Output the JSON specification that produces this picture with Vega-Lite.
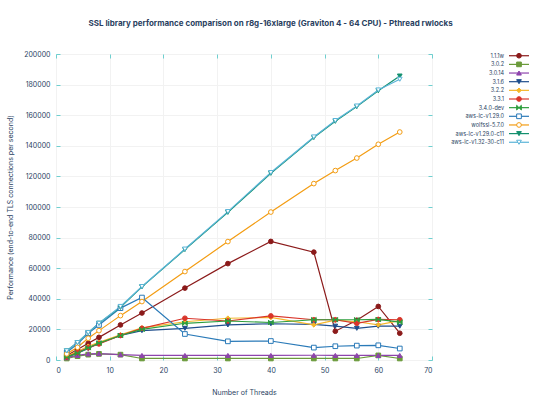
{
  "$schema": "https://vega.github.io/schema/vega-lite/v6.json",
  "background": "white",
  "padding": {"left": 6, "top": 19, "right": 5, "bottom": 5},
  "title": {
    "text": "SSL library performance comparison on r8g-16xlarge (Graviton 4 - 64 CPU) - Pthread rwlocks",
    "fontSize": 8,
    "fontWeight": "bold",
    "color": "#2a3f5f",
    "anchor": "middle",
    "offset": 22
  },
  "config": {
    "font": "Inter",
    "view": {"stroke": "#6fcfcf", "strokeWidth": 1},
    "axis": {
      "labelFontSize": 7,
      "labelColor": "#2a3f5f",
      "titleFontSize": 7,
      "titleFontWeight": "normal",
      "titleColor": "#2a3f5f",
      "gridColor": "#f2f2f2",
      "domain": false,
      "tickColor": "#6fcfcf",
      "tickSize": -4,
      "labelPadding": 10
    },
    "concat": {"spacing": 18}
  },
  "datasets": {
    "libs": [
      {"lib": "1.1.1w"},
      {"lib": "3.0.2"},
      {"lib": "3.0.14"},
      {"lib": "3.1.6"},
      {"lib": "3.2.2"},
      {"lib": "3.3.1"},
      {"lib": "3.4.0-dev"},
      {"lib": "aws-lc-v1.29.0"},
      {"lib": "wolfssl-5.7.0"},
      {"lib": "aws-lc-v1.29.0-c11"},
      {"lib": "aws-lc-v1.32-30-c11"}
    ],
    "perf": [
      {"lib": "1.1.1w", "threads": 2, "perf": 3000},
      {"lib": "1.1.1w", "threads": 4, "perf": 6800},
      {"lib": "1.1.1w", "threads": 6, "perf": 10900},
      {"lib": "1.1.1w", "threads": 8, "perf": 14800},
      {"lib": "1.1.1w", "threads": 12, "perf": 22900},
      {"lib": "1.1.1w", "threads": 16, "perf": 30700},
      {"lib": "1.1.1w", "threads": 24, "perf": 47000},
      {"lib": "1.1.1w", "threads": 32, "perf": 63000},
      {"lib": "1.1.1w", "threads": 40, "perf": 77500},
      {"lib": "1.1.1w", "threads": 48, "perf": 70500},
      {"lib": "1.1.1w", "threads": 52, "perf": 18800},
      {"lib": "1.1.1w", "threads": 56, "perf": 26000},
      {"lib": "1.1.1w", "threads": 60, "perf": 35000},
      {"lib": "1.1.1w", "threads": 64, "perf": 17500},
      {"lib": "3.0.2", "threads": 2, "perf": 1000},
      {"lib": "3.0.2", "threads": 4, "perf": 2500},
      {"lib": "3.0.2", "threads": 6, "perf": 3500},
      {"lib": "3.0.2", "threads": 8, "perf": 4000},
      {"lib": "3.0.2", "threads": 12, "perf": 3500},
      {"lib": "3.0.2", "threads": 16, "perf": 1000},
      {"lib": "3.0.2", "threads": 24, "perf": 1000},
      {"lib": "3.0.2", "threads": 32, "perf": 1000},
      {"lib": "3.0.2", "threads": 40, "perf": 1000},
      {"lib": "3.0.2", "threads": 48, "perf": 1000},
      {"lib": "3.0.2", "threads": 52, "perf": 1000},
      {"lib": "3.0.2", "threads": 56, "perf": 1000},
      {"lib": "3.0.2", "threads": 60, "perf": 3000},
      {"lib": "3.0.2", "threads": 64, "perf": 1000},
      {"lib": "3.0.14", "threads": 2, "perf": 1500},
      {"lib": "3.0.14", "threads": 4, "perf": 3000},
      {"lib": "3.0.14", "threads": 6, "perf": 4000},
      {"lib": "3.0.14", "threads": 8, "perf": 4200},
      {"lib": "3.0.14", "threads": 12, "perf": 3500},
      {"lib": "3.0.14", "threads": 16, "perf": 3000},
      {"lib": "3.0.14", "threads": 24, "perf": 3000},
      {"lib": "3.0.14", "threads": 32, "perf": 3000},
      {"lib": "3.0.14", "threads": 40, "perf": 3000},
      {"lib": "3.0.14", "threads": 48, "perf": 3100},
      {"lib": "3.0.14", "threads": 52, "perf": 3000},
      {"lib": "3.0.14", "threads": 56, "perf": 3000},
      {"lib": "3.0.14", "threads": 60, "perf": 3000},
      {"lib": "3.0.14", "threads": 64, "perf": 3000},
      {"lib": "3.1.6", "threads": 2, "perf": 1800},
      {"lib": "3.1.6", "threads": 4, "perf": 4500},
      {"lib": "3.1.6", "threads": 6, "perf": 7500},
      {"lib": "3.1.6", "threads": 8, "perf": 11000},
      {"lib": "3.1.6", "threads": 12, "perf": 16000},
      {"lib": "3.1.6", "threads": 16, "perf": 19200},
      {"lib": "3.1.6", "threads": 24, "perf": 20700},
      {"lib": "3.1.6", "threads": 32, "perf": 22900},
      {"lib": "3.1.6", "threads": 40, "perf": 23700},
      {"lib": "3.1.6", "threads": 48, "perf": 23300},
      {"lib": "3.1.6", "threads": 52, "perf": 22100},
      {"lib": "3.1.6", "threads": 56, "perf": 20700},
      {"lib": "3.1.6", "threads": 60, "perf": 22100},
      {"lib": "3.1.6", "threads": 64, "perf": 22100},
      {"lib": "3.2.2", "threads": 2, "perf": 2500},
      {"lib": "3.2.2", "threads": 4, "perf": 5500},
      {"lib": "3.2.2", "threads": 6, "perf": 9000},
      {"lib": "3.2.2", "threads": 8, "perf": 11500},
      {"lib": "3.2.2", "threads": 12, "perf": 16500},
      {"lib": "3.2.2", "threads": 16, "perf": 21000},
      {"lib": "3.2.2", "threads": 24, "perf": 25000},
      {"lib": "3.2.2", "threads": 32, "perf": 27300},
      {"lib": "3.2.2", "threads": 40, "perf": 27800},
      {"lib": "3.2.2", "threads": 48, "perf": 23000},
      {"lib": "3.2.2", "threads": 52, "perf": 26000},
      {"lib": "3.2.2", "threads": 56, "perf": 25000},
      {"lib": "3.2.2", "threads": 60, "perf": 23000},
      {"lib": "3.2.2", "threads": 64, "perf": 25700},
      {"lib": "3.3.1", "threads": 2, "perf": 2000},
      {"lib": "3.3.1", "threads": 4, "perf": 5000},
      {"lib": "3.3.1", "threads": 6, "perf": 8000},
      {"lib": "3.3.1", "threads": 8, "perf": 10500},
      {"lib": "3.3.1", "threads": 12, "perf": 16000},
      {"lib": "3.3.1", "threads": 16, "perf": 20700},
      {"lib": "3.3.1", "threads": 24, "perf": 27300},
      {"lib": "3.3.1", "threads": 32, "perf": 25500},
      {"lib": "3.3.1", "threads": 40, "perf": 28800},
      {"lib": "3.3.1", "threads": 48, "perf": 26300},
      {"lib": "3.3.1", "threads": 52, "perf": 26300},
      {"lib": "3.3.1", "threads": 56, "perf": 24000},
      {"lib": "3.3.1", "threads": 60, "perf": 26500},
      {"lib": "3.3.1", "threads": 64, "perf": 26300},
      {"lib": "3.4.0-dev", "threads": 2, "perf": 2000},
      {"lib": "3.4.0-dev", "threads": 4, "perf": 4500},
      {"lib": "3.4.0-dev", "threads": 6, "perf": 8000},
      {"lib": "3.4.0-dev", "threads": 8, "perf": 11000},
      {"lib": "3.4.0-dev", "threads": 12, "perf": 16000},
      {"lib": "3.4.0-dev", "threads": 16, "perf": 20000},
      {"lib": "3.4.0-dev", "threads": 24, "perf": 24000},
      {"lib": "3.4.0-dev", "threads": 32, "perf": 25500},
      {"lib": "3.4.0-dev", "threads": 40, "perf": 24500},
      {"lib": "3.4.0-dev", "threads": 48, "perf": 26300},
      {"lib": "3.4.0-dev", "threads": 52, "perf": 26300},
      {"lib": "3.4.0-dev", "threads": 56, "perf": 26300},
      {"lib": "3.4.0-dev", "threads": 60, "perf": 26500},
      {"lib": "3.4.0-dev", "threads": 64, "perf": 24700},
      {"lib": "aws-lc-v1.29.0", "threads": 2, "perf": 5000},
      {"lib": "aws-lc-v1.29.0", "threads": 4, "perf": 10500},
      {"lib": "aws-lc-v1.29.0", "threads": 6, "perf": 17500},
      {"lib": "aws-lc-v1.29.0", "threads": 8, "perf": 22900},
      {"lib": "aws-lc-v1.29.0", "threads": 12, "perf": 33900},
      {"lib": "aws-lc-v1.29.0", "threads": 16, "perf": 40800},
      {"lib": "aws-lc-v1.29.0", "threads": 24, "perf": 17000},
      {"lib": "aws-lc-v1.29.0", "threads": 32, "perf": 12200},
      {"lib": "aws-lc-v1.29.0", "threads": 40, "perf": 12400},
      {"lib": "aws-lc-v1.29.0", "threads": 48, "perf": 8100},
      {"lib": "aws-lc-v1.29.0", "threads": 52, "perf": 9000},
      {"lib": "aws-lc-v1.29.0", "threads": 56, "perf": 9400},
      {"lib": "aws-lc-v1.29.0", "threads": 60, "perf": 9600},
      {"lib": "aws-lc-v1.29.0", "threads": 64, "perf": 7500},
      {"lib": "wolfssl-5.7.0", "threads": 2, "perf": 4000},
      {"lib": "wolfssl-5.7.0", "threads": 4, "perf": 8300},
      {"lib": "wolfssl-5.7.0", "threads": 6, "perf": 14200},
      {"lib": "wolfssl-5.7.0", "threads": 8, "perf": 19200},
      {"lib": "wolfssl-5.7.0", "threads": 12, "perf": 29000},
      {"lib": "wolfssl-5.7.0", "threads": 16, "perf": 38200},
      {"lib": "wolfssl-5.7.0", "threads": 24, "perf": 57800},
      {"lib": "wolfssl-5.7.0", "threads": 32, "perf": 77400},
      {"lib": "wolfssl-5.7.0", "threads": 40, "perf": 96700},
      {"lib": "wolfssl-5.7.0", "threads": 48, "perf": 115300},
      {"lib": "wolfssl-5.7.0", "threads": 52, "perf": 123800},
      {"lib": "wolfssl-5.7.0", "threads": 56, "perf": 132000},
      {"lib": "wolfssl-5.7.0", "threads": 60, "perf": 141000},
      {"lib": "wolfssl-5.7.0", "threads": 64, "perf": 149000},
      {"lib": "aws-lc-v1.29.0-c11", "threads": 2, "perf": 6000},
      {"lib": "aws-lc-v1.29.0-c11", "threads": 4, "perf": 11400},
      {"lib": "aws-lc-v1.29.0-c11", "threads": 6, "perf": 17900},
      {"lib": "aws-lc-v1.29.0-c11", "threads": 8, "perf": 24000},
      {"lib": "aws-lc-v1.29.0-c11", "threads": 12, "perf": 34400},
      {"lib": "aws-lc-v1.29.0-c11", "threads": 16, "perf": 47800},
      {"lib": "aws-lc-v1.29.0-c11", "threads": 24, "perf": 72200},
      {"lib": "aws-lc-v1.29.0-c11", "threads": 32, "perf": 96500},
      {"lib": "aws-lc-v1.29.0-c11", "threads": 40, "perf": 122000},
      {"lib": "aws-lc-v1.29.0-c11", "threads": 48, "perf": 145400},
      {"lib": "aws-lc-v1.29.0-c11", "threads": 52, "perf": 156000},
      {"lib": "aws-lc-v1.29.0-c11", "threads": 56, "perf": 165600},
      {"lib": "aws-lc-v1.29.0-c11", "threads": 60, "perf": 176000},
      {"lib": "aws-lc-v1.29.0-c11", "threads": 64, "perf": 185600},
      {"lib": "aws-lc-v1.32-30-c11", "threads": 2, "perf": 6000},
      {"lib": "aws-lc-v1.32-30-c11", "threads": 4, "perf": 11400},
      {"lib": "aws-lc-v1.32-30-c11", "threads": 6, "perf": 17900},
      {"lib": "aws-lc-v1.32-30-c11", "threads": 8, "perf": 24000},
      {"lib": "aws-lc-v1.32-30-c11", "threads": 12, "perf": 35000},
      {"lib": "aws-lc-v1.32-30-c11", "threads": 16, "perf": 48000},
      {"lib": "aws-lc-v1.32-30-c11", "threads": 24, "perf": 72500},
      {"lib": "aws-lc-v1.32-30-c11", "threads": 32, "perf": 97000},
      {"lib": "aws-lc-v1.32-30-c11", "threads": 40, "perf": 122500},
      {"lib": "aws-lc-v1.32-30-c11", "threads": 48, "perf": 145800},
      {"lib": "aws-lc-v1.32-30-c11", "threads": 52, "perf": 156500},
      {"lib": "aws-lc-v1.32-30-c11", "threads": 56, "perf": 166000},
      {"lib": "aws-lc-v1.32-30-c11", "threads": 60, "perf": 176500},
      {"lib": "aws-lc-v1.32-30-c11", "threads": 64, "perf": 183500}
    ]
  },
  "hconcat": [
    {
      "width": 376,
      "height": 306,
      "data": {"name": "perf"},
      "resolve": {"axis": {"x": "independent", "y": "independent"}},
      "layer": [
        {
          "mark": {"type": "line", "strokeWidth": 1.2},
          "encoding": {
            "x": {
              "field": "threads",
              "type": "quantitative",
              "scale": {"domain": [0, 70]},
              "axis": {"values": [0, 10, 20, 30, 40, 50, 60, 70], "title": "Number of Threads", "titlePadding": 15}
            },
            "y": {
              "field": "perf",
              "type": "quantitative",
              "scale": {"domain": [0, 200000]},
              "axis": {
                "values": [0, 20000, 40000, 60000, 80000, 100000, 120000, 140000, 160000, 180000, 200000],
                "format": "d",
                "title": "Performance (end-to-end TLS connections per second)",
                "titlePadding": 10
              }
            },
            "color": {
              "field": "lib",
              "type": "nominal",
              "scale": {
                "domain": ["1.1.1w", "3.0.2", "3.0.14", "3.1.6", "3.2.2", "3.3.1", "3.4.0-dev", "aws-lc-v1.29.0", "wolfssl-5.7.0", "aws-lc-v1.29.0-c11", "aws-lc-v1.32-30-c11"],
                "range": ["#8b1a1a", "#6b9a3a", "#8e44ad", "#1f4e8c", "#f5b72a", "#d9352a", "#2e9e3e", "#2a7ab8", "#f39c12", "#13906e", "#5ab4d8"]
              },
              "legend": null
            }
          }
        },
        {
          "mark": {"type": "point", "size": 22, "strokeWidth": 1, "opacity": 1, "fillOpacity": 1},
          "encoding": {
            "x": {
              "field": "threads",
              "type": "quantitative",
              "axis": {"orient": "top", "values": [0, 10, 20, 30, 40, 50, 60, 70], "labels": false, "title": null, "grid": false}
            },
            "y": {
              "field": "perf",
              "type": "quantitative",
              "axis": {"orient": "right", "values": [0, 20000, 40000, 60000, 80000, 100000, 120000, 140000, 160000, 180000, 200000], "labels": false, "title": null, "grid": false}
            },
            "stroke": {
              "field": "lib",
              "type": "nominal",
              "scale": {
                "domain": ["1.1.1w", "3.0.2", "3.0.14", "3.1.6", "3.2.2", "3.3.1", "3.4.0-dev", "aws-lc-v1.29.0", "wolfssl-5.7.0", "aws-lc-v1.29.0-c11", "aws-lc-v1.32-30-c11"],
                "range": ["#8b1a1a", "#6b9a3a", "#8e44ad", "#1f4e8c", "#f5b72a", "#d9352a", "#2e9e3e", "#2a7ab8", "#f39c12", "#13906e", "#5ab4d8"]
              },
              "legend": null
            },
            "fill": {
              "field": "lib",
              "type": "nominal",
              "scale": {
                "domain": ["1.1.1w", "3.0.2", "3.0.14", "3.1.6", "3.2.2", "3.3.1", "3.4.0-dev", "aws-lc-v1.29.0", "wolfssl-5.7.0", "aws-lc-v1.29.0-c11", "aws-lc-v1.32-30-c11"],
                "range": ["#8b1a1a", "#6b9a3a", "#8e44ad", "#1f4e8c", "#f5b72a", "#d9352a", "#2e9e3e", "white", "white", "#13906e", "white"]
              },
              "legend": null
            },
            "shape": {
              "field": "lib",
              "type": "nominal",
              "scale": {
                "domain": ["1.1.1w", "3.0.2", "3.0.14", "3.1.6", "3.2.2", "3.3.1", "3.4.0-dev", "aws-lc-v1.29.0", "wolfssl-5.7.0", "aws-lc-v1.29.0-c11", "aws-lc-v1.32-30-c11"],
                "range": ["circle", "square", "triangle-up", "triangle-down", "diamond", "circle", "M-1,-1L1,1L1,-1L-1,1Z", "square", "circle", "triangle-down", "triangle-down"]
              },
              "legend": null
            }
          }
        }
      ]
    },
    {
      "width": 65,
      "height": 90,
      "data": {"name": "libs"},
      "view": {"stroke": null},
      "encoding": {
        "y": {"field": "lib", "type": "nominal", "sort": null, "scale": {"type": "point", "padding": 0.2}, "axis": null}
      },
      "layer": [
        {
          "mark": {"type": "text", "align": "right", "baseline": "middle", "fontSize": 5.5, "color": "#2a3f5f"},
          "encoding": {
            "x": {"datum": 34, "type": "quantitative", "scale": {"domain": [0, 65]}, "axis": null},
            "text": {"field": "lib"}
          }
        },
        {
          "mark": {"type": "rule", "strokeWidth": 1.2},
          "encoding": {
            "x": {"datum": 39, "type": "quantitative"},
            "x2": {"datum": 59},
            "color": {"field": "lib", "type": "nominal", "legend": null}
          }
        },
        {
          "mark": {"type": "point", "size": 22, "strokeWidth": 1, "opacity": 1, "fillOpacity": 1},
          "encoding": {
            "x": {"datum": 49, "type": "quantitative"},
            "stroke": {"field": "lib", "type": "nominal", "legend": null},
            "fill": {"field": "lib", "type": "nominal", "legend": null},
            "shape": {"field": "lib", "type": "nominal", "legend": null}
          }
        }
      ]
    }
  ]
}
